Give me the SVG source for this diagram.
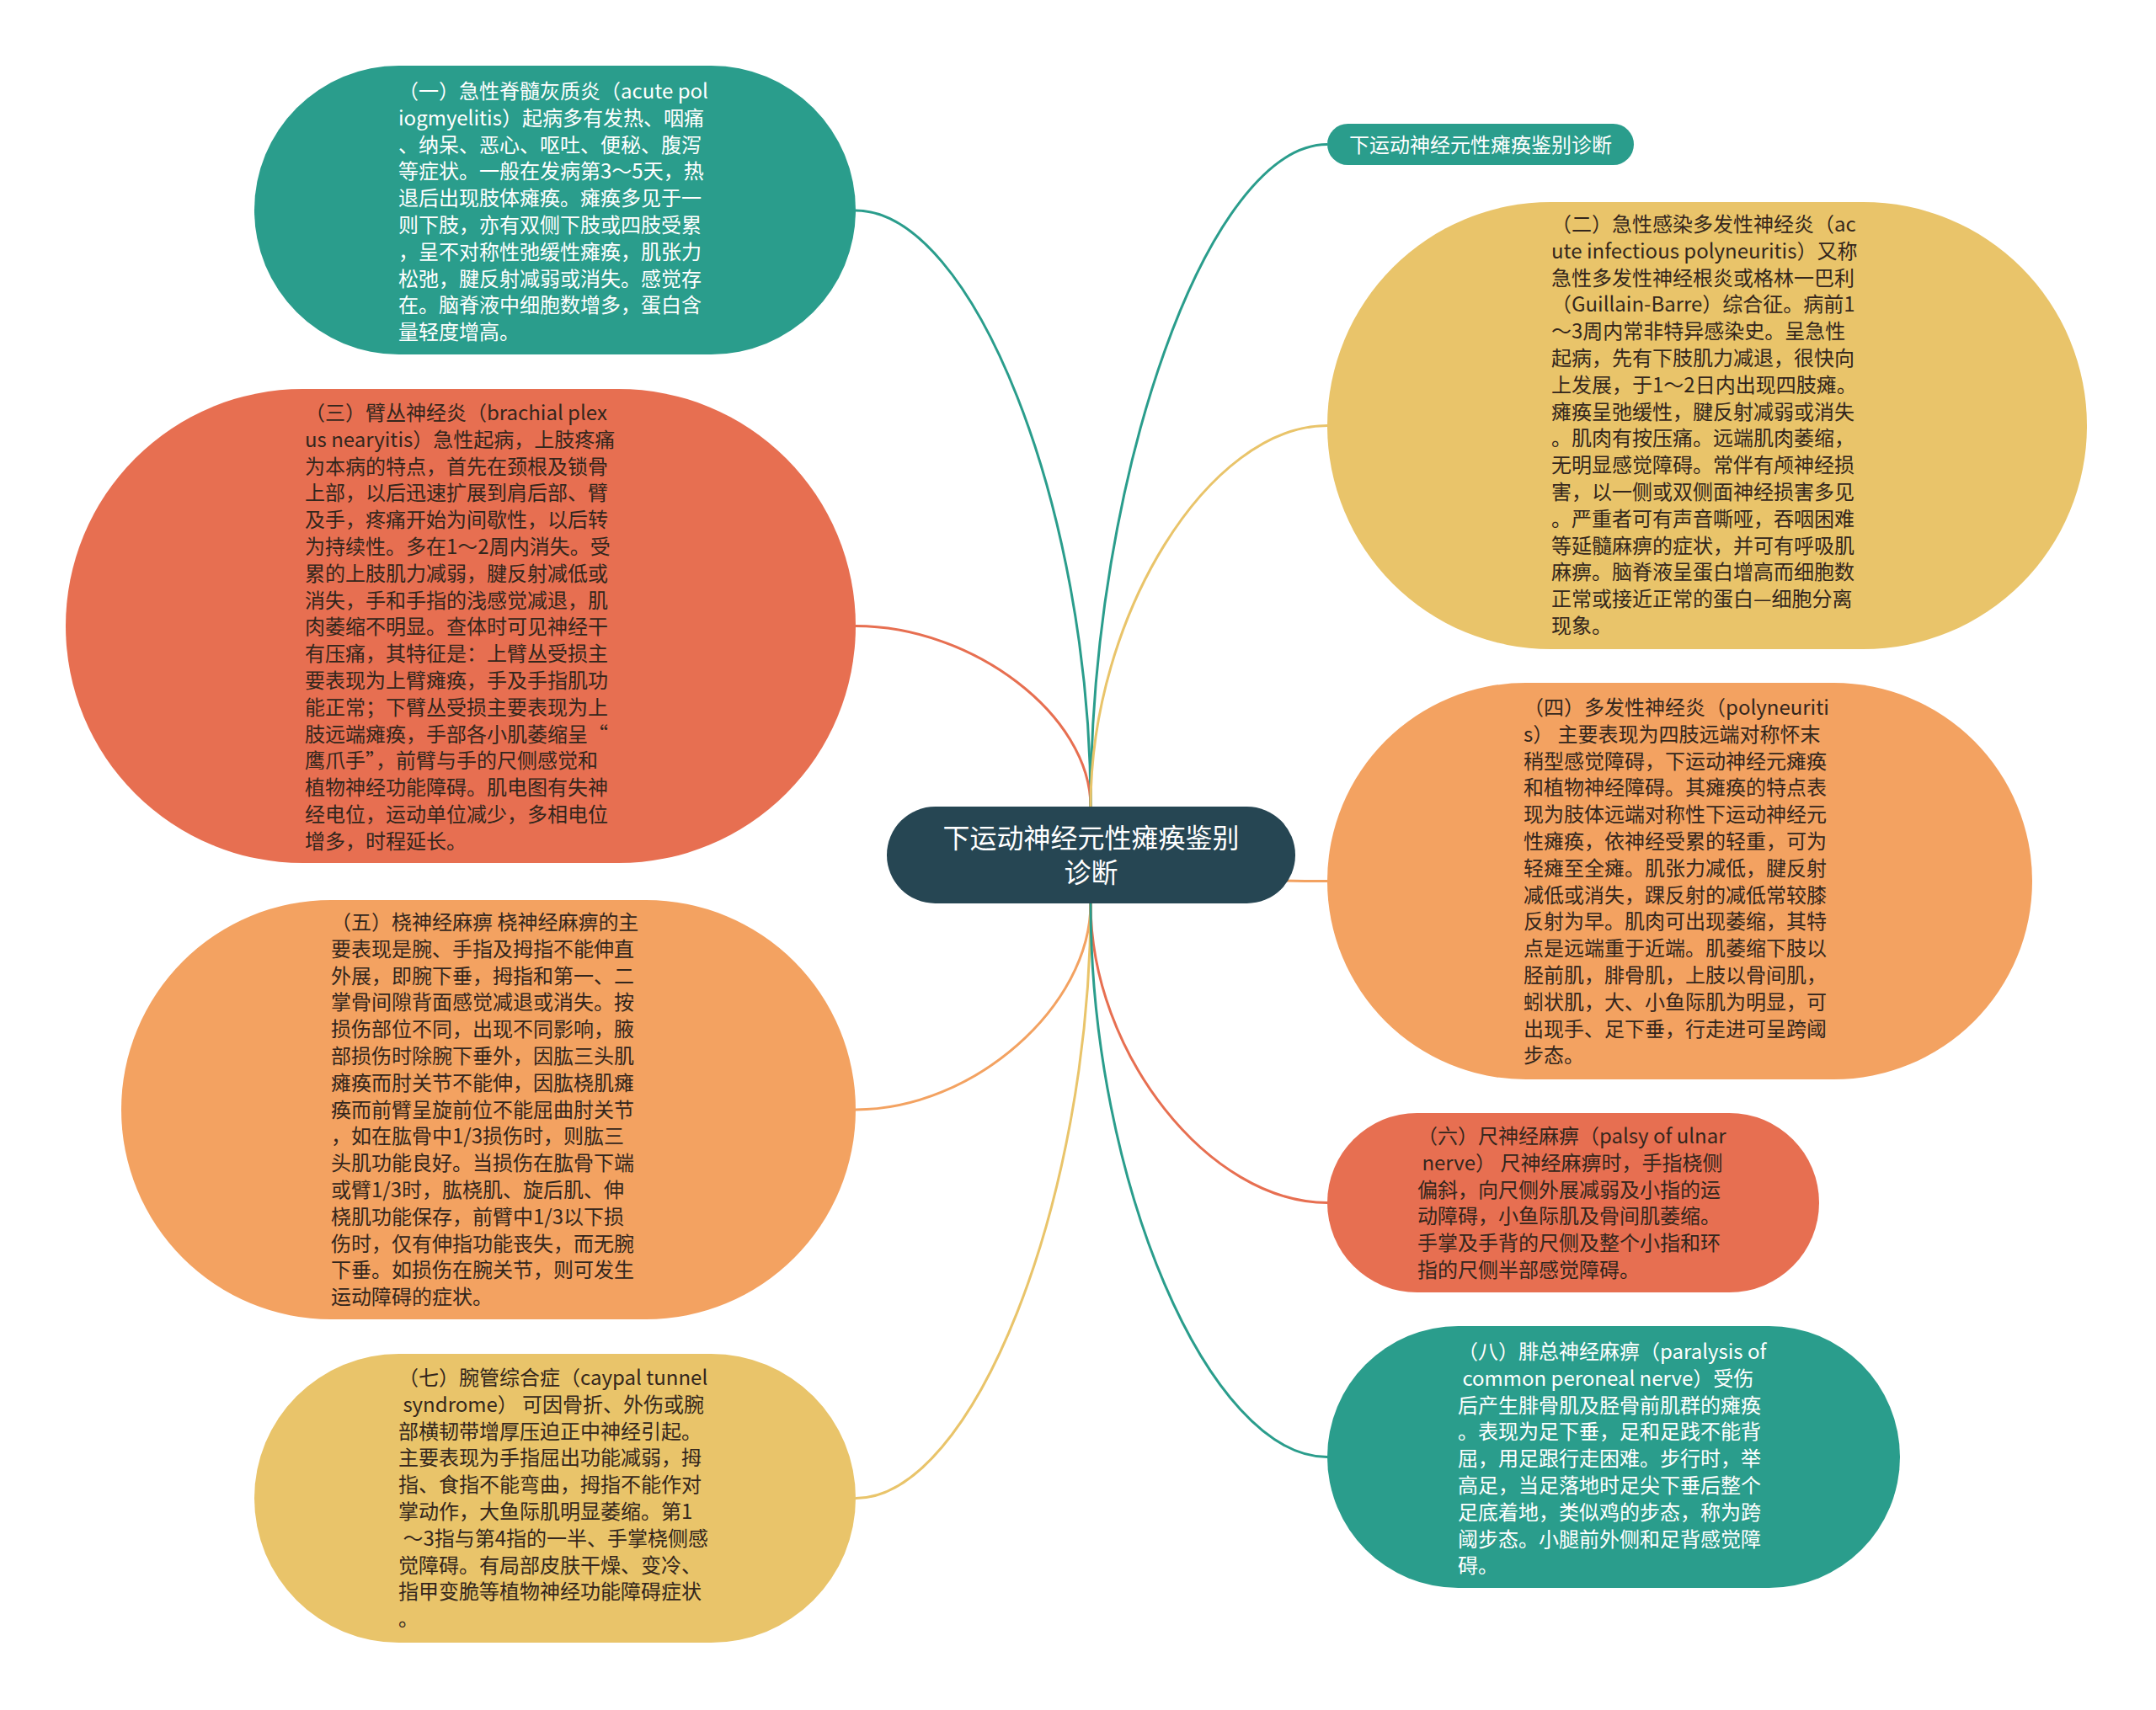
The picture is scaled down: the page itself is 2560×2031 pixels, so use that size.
<svg xmlns="http://www.w3.org/2000/svg" width="2560" height="2031" viewBox="0 0 2560 2031">
<style>
text{font-family:"Noto Sans CJK SC","Noto Sans",sans-serif;font-size:24px;}
.dk{fill:#33261c;}
.wt{fill:#ffffff;}
.teal{fill:#2a9d8c;}
.red{fill:#e76f51;}
.org{fill:#f3a261;}
.yel{fill:#e9c46a;}
.ctr{fill:#264653;}
.ln{fill:none;stroke-width:3;}
</style>
<rect x="0" y="0" width="2560" height="2031" fill="#ffffff"/>
<g id="connectors">
<path class="ln" stroke="#2a9d8c" d="M1295,958 C1295,604 1155.5,250 1016,250"/>
<path class="ln" stroke="#e76f51" d="M1295,958 C1295,850 1155.5,743.5 1016,743.5"/>
<path class="ln" stroke="#f3a261" d="M1295,1073 C1295,1195.5 1155.5,1318 1016,1318"/>
<path class="ln" stroke="#e9c46a" d="M1295,1073 C1295,1426 1155.5,1779.5 1016,1779.5"/>
<path class="ln" stroke="#2a9d8c" d="M1295,958 C1295,564.5 1435.5,171.5 1576,171.5"/>
<path class="ln" stroke="#e9c46a" d="M1295,958 C1295,731.75 1435.5,505.5 1576,505.5"/>
<path class="ln" stroke="#f3a261" d="M1295,1016 C1295,1031 1435.5,1046.5 1576,1046.5"/>
<path class="ln" stroke="#e76f51" d="M1295,1073 C1295,1250 1435.5,1428.5 1576,1428.5"/>
<path class="ln" stroke="#2a9d8c" d="M1295,1073 C1295,1402 1435.5,1730.5 1576,1730.5"/>
</g>
<g id="center">
<rect class="ctr" x="1053" y="958" width="485" height="115" rx="57.5"/>
<text class="wt" x="1295.5" y="1007" text-anchor="middle" style="font-size:32px">下运动神经元性瘫痪鉴别</text>
<text class="wt" x="1295.5" y="1048" text-anchor="middle" style="font-size:32px">诊断</text>
</g>
<g id="node1">
<rect class="teal" x="302" y="78" width="714" height="343" rx="171.5"/>
<text class="wt" x="473">
<tspan x="473" y="117">（一）急性脊髓灰质炎（acute pol</tspan>
<tspan x="473" y="148.8">iogmyelitis）起病多有发热、咽痛</tspan>
<tspan x="473" y="180.6">、纳呆、恶心、呕吐、便秘、腹泻</tspan>
<tspan x="473" y="212.4">等症状。一般在发病第3～5天，热</tspan>
<tspan x="473" y="244.2">退后出现肢体瘫痪。瘫痪多见于一</tspan>
<tspan x="473" y="276">则下肢，亦有双侧下肢或四肢受累</tspan>
<tspan x="473" y="307.8">，呈不对称性弛缓性瘫痪，肌张力</tspan>
<tspan x="473" y="339.6">松弛，腱反射减弱或消失。感觉存</tspan>
<tspan x="473" y="371.4">在。脑脊液中细胞数增多，蛋白含</tspan>
<tspan x="473" y="403.2">量轻度增高。</tspan>
</text>
</g>
<g id="node2">
<rect class="red" x="78" y="462" width="938" height="563" rx="281.5"/>
<text class="dk" x="362">
<tspan x="362" y="499">（三）臂丛神经炎（brachial plex</tspan>
<tspan x="362" y="530.8">us nearyitis）急性起病，上肢疼痛</tspan>
<tspan x="362" y="562.6">为本病的特点，首先在颈根及锁骨</tspan>
<tspan x="362" y="594.4">上部，以后迅速扩展到肩后部、臂</tspan>
<tspan x="362" y="626.2">及手，疼痛开始为间歇性，以后转</tspan>
<tspan x="362" y="658">为持续性。多在1～2周内消失。受</tspan>
<tspan x="362" y="689.8">累的上肢肌力减弱，腱反射减低或</tspan>
<tspan x="362" y="721.6">消失，手和手指的浅感觉减退，肌</tspan>
<tspan x="362" y="753.4">肉萎缩不明显。查体时可见神经干</tspan>
<tspan x="362" y="785.2">有压痛，其特征是：上臂丛受损主</tspan>
<tspan x="362" y="817">要表现为上臂瘫痪，手及手指肌功</tspan>
<tspan x="362" y="848.8">能正常；下臂丛受损主要表现为上</tspan>
<tspan x="362" y="880.6">肢远端瘫痪，手部各小肌萎缩呈“</tspan>
<tspan x="362" y="912.4">鹰爪手”，前臂与手的尺侧感觉和</tspan>
<tspan x="362" y="944.2">植物神经功能障碍。肌电图有失神</tspan>
<tspan x="362" y="976">经电位，运动单位减少，多相电位</tspan>
<tspan x="362" y="1007.8">增多，时程延长。</tspan>
</text>
</g>
<g id="node3">
<rect class="org" x="144" y="1069" width="872" height="498" rx="249"/>
<text class="dk" x="393">
<tspan x="393" y="1104">（五）桡神经麻痹 桡神经麻痹的主</tspan>
<tspan x="393" y="1135.8">要表现是腕、手指及拇指不能伸直</tspan>
<tspan x="393" y="1167.6">外展，即腕下垂，拇指和第一、二</tspan>
<tspan x="393" y="1199.4">掌骨间隙背面感觉减退或消失。按</tspan>
<tspan x="393" y="1231.2">损伤部位不同，出现不同影响，腋</tspan>
<tspan x="393" y="1263">部损伤时除腕下垂外，因肱三头肌</tspan>
<tspan x="393" y="1294.8">瘫痪而肘关节不能伸，因肱桡肌瘫</tspan>
<tspan x="393" y="1326.6">痪而前臂呈旋前位不能屈曲肘关节</tspan>
<tspan x="393" y="1358.4">，如在肱骨中1/3损伤时，则肱三</tspan>
<tspan x="393" y="1390.2">头肌功能良好。当损伤在肱骨下端</tspan>
<tspan x="393" y="1422">或臂1/3时，肱桡肌、旋后肌、伸</tspan>
<tspan x="393" y="1453.8">桡肌功能保存，前臂中1/3以下损</tspan>
<tspan x="393" y="1485.6">伤时，仅有伸指功能丧失，而无腕</tspan>
<tspan x="393" y="1517.4">下垂。如损伤在腕关节，则可发生</tspan>
<tspan x="393" y="1549.2">运动障碍的症状。</tspan>
</text>
</g>
<g id="node4">
<rect class="yel" x="302" y="1608" width="714" height="343" rx="171.5"/>
<text class="dk" x="473">
<tspan x="473" y="1645">（七）腕管综合症（caypal tunnel</tspan>
<tspan x="473" y="1676.8">&#160;syndrome） 可因骨折、外伤或腕</tspan>
<tspan x="473" y="1708.6">部横韧带增厚压迫正中神经引起。</tspan>
<tspan x="473" y="1740.4">主要表现为手指屈出功能减弱，拇</tspan>
<tspan x="473" y="1772.2">指、食指不能弯曲，拇指不能作对</tspan>
<tspan x="473" y="1804">掌动作，大鱼际肌明显萎缩。第1</tspan>
<tspan x="473" y="1835.8">&#160;～3指与第4指的一半、手掌桡侧感</tspan>
<tspan x="473" y="1867.6">觉障碍。有局部皮肤干燥、变冷、</tspan>
<tspan x="473" y="1899.4">指甲变脆等植物神经功能障碍症状</tspan>
<tspan x="473" y="1931.2">。</tspan>
</text>
</g>
<g id="node5">
<rect class="teal" x="1576" y="147" width="364" height="49" rx="24.5"/>
<text class="wt" x="1758" y="180.5" text-anchor="middle">下运动神经元性瘫痪鉴别诊断</text>
</g>
<g id="node6">
<rect class="yel" x="1576" y="240" width="902" height="531" rx="265.5"/>
<text class="dk" x="1842">
<tspan x="1842" y="275">（二）急性感染多发性神经炎（ac</tspan>
<tspan x="1842" y="306.8">ute infectious polyneuritis）又称</tspan>
<tspan x="1842" y="338.6">急性多发性神经根炎或格林一巴利</tspan>
<tspan x="1842" y="370.4">（Guillain-Barre）综合征。病前1</tspan>
<tspan x="1842" y="402.2">～3周内常非特异感染史。呈急性</tspan>
<tspan x="1842" y="434">起病，先有下肢肌力减退，很快向</tspan>
<tspan x="1842" y="465.8">上发展，于1～2日内出现四肢瘫。</tspan>
<tspan x="1842" y="497.6">瘫痪呈弛缓性，腱反射减弱或消失</tspan>
<tspan x="1842" y="529.4">。肌肉有按压痛。远端肌肉萎缩，</tspan>
<tspan x="1842" y="561.2">无明显感觉障碍。常伴有颅神经损</tspan>
<tspan x="1842" y="593">害，以一侧或双侧面神经损害多见</tspan>
<tspan x="1842" y="624.8">。严重者可有声音嘶哑，吞咽困难</tspan>
<tspan x="1842" y="656.6">等延髓麻痹的症状，并可有呼吸肌</tspan>
<tspan x="1842" y="688.4">麻痹。脑脊液呈蛋白增高而细胞数</tspan>
<tspan x="1842" y="720.2">正常或接近正常的蛋白—细胞分离</tspan>
<tspan x="1842" y="752">现象。</tspan>
</text>
</g>
<g id="node7">
<rect class="org" x="1576" y="811" width="837" height="471" rx="235.5"/>
<text class="dk" x="1809">
<tspan x="1809" y="849">（四）多发性神经炎（polyneuriti</tspan>
<tspan x="1809" y="880.8">s） 主要表现为四肢远端对称怀末</tspan>
<tspan x="1809" y="912.6">稍型感觉障碍，下运动神经元瘫痪</tspan>
<tspan x="1809" y="944.4">和植物神经障碍。其瘫痪的特点表</tspan>
<tspan x="1809" y="976.2">现为肢体远端对称性下运动神经元</tspan>
<tspan x="1809" y="1008">性瘫痪，依神经受累的轻重，可为</tspan>
<tspan x="1809" y="1039.8">轻瘫至全瘫。肌张力减低，腱反射</tspan>
<tspan x="1809" y="1071.6">减低或消失，踝反射的减低常较膝</tspan>
<tspan x="1809" y="1103.4">反射为早。肌肉可出现萎缩，其特</tspan>
<tspan x="1809" y="1135.2">点是远端重于近端。肌萎缩下肢以</tspan>
<tspan x="1809" y="1167">胫前肌，腓骨肌，上肢以骨间肌，</tspan>
<tspan x="1809" y="1198.8">蚓状肌，大、小鱼际肌为明显，可</tspan>
<tspan x="1809" y="1230.6">出现手、足下垂，行走进可呈跨阈</tspan>
<tspan x="1809" y="1262.4">步态。</tspan>
</text>
</g>
<g id="node8">
<rect class="red" x="1576" y="1322" width="584" height="213" rx="106.5"/>
<text class="dk" x="1683">
<tspan x="1683" y="1358">（六）尺神经麻痹（palsy of ulnar</tspan>
<tspan x="1683" y="1389.8">&#160;nerve） 尺神经麻痹时，手指桡侧</tspan>
<tspan x="1683" y="1421.6">偏斜，向尺侧外展减弱及小指的运</tspan>
<tspan x="1683" y="1453.4">动障碍，小鱼际肌及骨间肌萎缩。</tspan>
<tspan x="1683" y="1485.2">手掌及手背的尺侧及整个小指和环</tspan>
<tspan x="1683" y="1517">指的尺侧半部感觉障碍。</tspan>
</text>
</g>
<g id="node9">
<rect class="teal" x="1576" y="1575" width="680" height="311" rx="155.5"/>
<text class="wt" x="1731">
<tspan x="1731" y="1614">（八）腓总神经麻痹（paralysis of</tspan>
<tspan x="1731" y="1645.8">&#160;common peroneal nerve）受伤</tspan>
<tspan x="1731" y="1677.6">后产生腓骨肌及胫骨前肌群的瘫痪</tspan>
<tspan x="1731" y="1709.4">。表现为足下垂，足和足践不能背</tspan>
<tspan x="1731" y="1741.2">屈，用足跟行走困难。步行时，举</tspan>
<tspan x="1731" y="1773">高足，当足落地时足尖下垂后整个</tspan>
<tspan x="1731" y="1804.8">足底着地，类似鸡的步态，称为跨</tspan>
<tspan x="1731" y="1836.6">阈步态。小腿前外侧和足背感觉障</tspan>
<tspan x="1731" y="1868.4">碍。</tspan>
</text>
</g>
</svg>
